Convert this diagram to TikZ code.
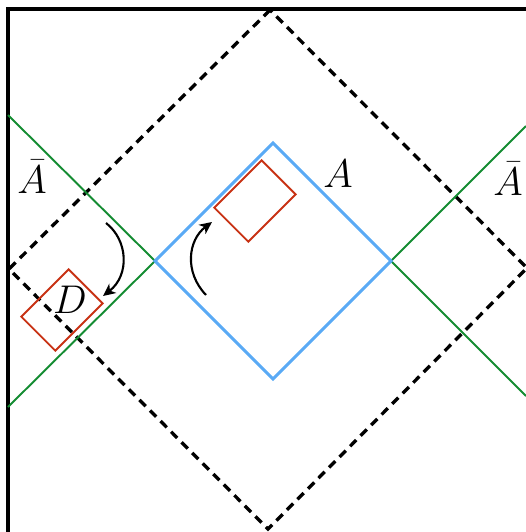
\documentclass[tikz,border=0pt]{standalone}
\usetikzlibrary{arrows, arrows.meta}
\usepackage{amsmath}
\usepackage[svgnames]{xcolor}

\definecolor{regionblue}{RGB}{90,170,245}
\definecolor{horizongreen}{RGB}{20,140,50}
\definecolor{boxred}{RGB}{200,50,20}

\begin{document}
\begin{tikzpicture}[x=0.02cm, y=-0.02cm, >={Stealth[length=7pt, width=6.5pt, inset=2pt]},
    frame/.style={line width=1.8pt},
    wedge/.style={dashed, line width=1.9pt, dash pattern=on 5pt off 3.5pt},
    region/.style={regionblue, line width=1.7pt},
    horizon/.style={horizongreen, line width=1.1pt},
    patch/.style={draw=boxred, line width=1.1pt, rotate=45, minimum width=1.34cm, minimum height=0.96cm},
    tag/.style={anchor=base, inner sep=0pt, font=\huge, scale=1.1}]
        \useasboundingbox (0,0) rectangle (526,532);
        % Boundary
        \coordinate (b_bot) at (8,532);
        \coordinate (b_top) at (8,9);
        \coordinate (b_right) at (526,9);
        \draw[frame] (b_bot) -- (b_top) -- (b_right);

        % Dashed diamond
        \coordinate (w_top) at (270,10);
        \coordinate (w_left) at (9,269);
        \coordinate (w_bot) at (268,529);
        \coordinate (w_right) at (527,268);
        \draw[wedge] (w_top) -- (w_left) -- (w_bot) -- (w_right) -- cycle;

        % Region A
        \coordinate (a_top) at (273,143);
        \coordinate (a_left) at (155,261);
        \coordinate (a_bot) at (273,379);
        \coordinate (a_right) at (391,261);

        % Horizons of the complement
        \coordinate (h_lt) at (8,115);
        \coordinate (h_lb) at (8,407);
        \coordinate (h_rt) at (526,126);
        \coordinate (h_rb) at (526,396);
        \draw[horizon] (h_lt) -- (a_left) -- (h_lb);
        \draw[horizon] (h_rt) -- (a_right) -- (h_rb);
        \draw[region] (a_top) -- (a_left) -- (a_bot) -- (a_right) -- cycle;

        % Patches
        \node[patch] (p_in) at (255,201) {};
        \node[patch] (p_out) at (62,310) {};

        % Labels
        \node[tag] (l_abar) at (32,193) {$\bar{A}$};
        \node[tag] (l_a) at (338,187) {$A$};
        \node[tag] (l_abar2) at (508,195) {$\bar{A}$};
        \node[tag] (l_d) at (70,313) {$D$};

        % Arrows
        \coordinate (m_from) at (106,223);
        \coordinate (m_to) at (103,296);
        \coordinate (n_from) at (206,295);
        \coordinate (n_to) at (212,222);
        \draw[->, line width=1.2pt] (m_from) .. controls (128,240) and (130,275) .. (m_to);
        \draw[->, line width=1.2pt] (n_from) .. controls (184,272) and (188,240) .. (n_to);
    \end{tikzpicture}
\end{document}
